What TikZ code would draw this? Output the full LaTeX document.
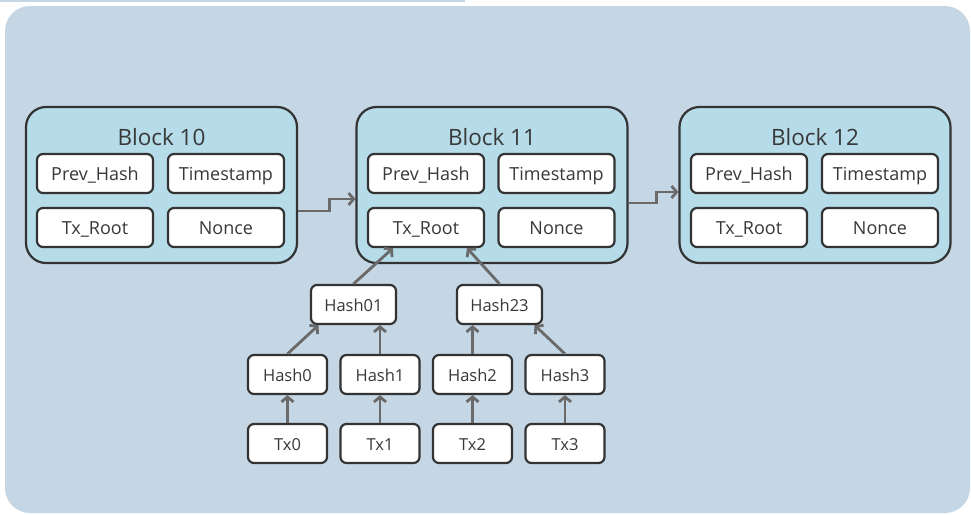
\documentclass[tikz,border=0pt]{standalone}
\usepackage{fontspec}
\setmainfont{Open Sans}
\usepackage{tikz}
\usetikzlibrary{arrows.meta}

\definecolor{PanelBlue}{HTML}{C5D6E5}
\definecolor{BlockCyan}{HTML}{B5DCE8}
\definecolor{EdgeGray}{HTML}{333333}
\definecolor{LinkGray}{HTML}{6A6A6A}
\definecolor{InkGray}{HTML}{383838}

\begin{document}
\begin{tikzpicture}[x=1pt, y=-1pt,
  block/.style={rectangle, rounded corners=20pt, draw=EdgeGray, line width=2.2pt, fill=BlockCyan, minimum width=271pt, minimum height=156pt, inner sep=0pt},
  title/.style={text=InkGray, font=\fontsize{22.5}{25}\selectfont},
  field/.style={rectangle, rounded corners=6pt, draw=EdgeGray, line width=2.2pt, fill=white, minimum width=116pt, minimum height=39pt, inner sep=0pt, text height=14pt, text depth=0pt, text=InkGray, font=\fontsize{18}{21}\selectfont},
  hashbox/.style={field, minimum width=79pt, text height=13pt, font=\fontsize{16.5}{19}\selectfont},
  link/.style={draw=LinkGray, line width=2.8pt, -{Straight Barb[length=5pt, width=12pt]}}]
  \useasboundingbox (0,0) rectangle (971,514);
  \fill[white] (0,0) rectangle (971,514);
  \fill[PanelBlue] (0,0) rectangle (465,1.5);
  \fill[PanelBlue, rounded corners=25pt] (5,6) rectangle (970,513);

  % blocks
  \node [block] (b10) at (161.5, 185) {};
  \node [block] (b11) at (492, 185) {};
  \node [block] (b12) at (815, 185) {};
  \node [title] (b10title) at (161.5, 137) {Block 10};
  \node [title] (b11title) at (492, 137) {Block 11};
  \node [title] (b12title) at (815, 137) {Block 12};

  \node [field] (b10prev) at (95, 173.5) {Prev\_Hash};
  \node [field] (b10time) at (226, 173.5) {Timestamp};
  \node [field] (b10root) at (95, 227.5) {Tx\_Root};
  \node [field] (b10nonce) at (226, 227.5) {Nonce};

  \node [field] (b11prev) at (426, 173.5) {Prev\_Hash};
  \node [field] (b11time) at (556.5, 173.5) {Timestamp};
  \node [field] (b11root) at (426, 227.5) {Tx\_Root};
  \node [field] (b11nonce) at (556.5, 227.5) {Nonce};

  \node [field] (b12prev) at (749, 173.5) {Prev\_Hash};
  \node [field] (b12time) at (880, 173.5) {Timestamp};
  \node [field] (b12root) at (749, 227.5) {Tx\_Root};
  \node [field] (b12nonce) at (880, 227.5) {Nonce};

  % merkle tree
  \node [hashbox, minimum width=85pt] (h01) at (353.5, 304.5) {Hash01};
  \node [hashbox, minimum width=85pt] (h23) at (499.5, 304.5) {Hash23};
  \node [hashbox] (h0) at (287.5, 374.5) {Hash0};
  \node [hashbox] (h1) at (380, 374.5) {Hash1};
  \node [hashbox] (h2) at (472.5, 374.5) {Hash2};
  \node [hashbox] (h3) at (565, 374.5) {Hash3};
  \node [hashbox] (tx0) at (287.5, 443.5) {Tx0};
  \node [hashbox] (tx1) at (380, 443.5) {Tx1};
  \node [hashbox] (tx2) at (472.5, 443.5) {Tx2};
  \node [hashbox] (tx3) at (565, 443.5) {Tx3};

  \draw [link] ([yshift=-26pt]b10.east) -- ++(31,0) |- ([yshift=-14pt]b11.west);
  \draw [link] ([yshift=-18pt]b11.east) -- ++(28,0) |- ([yshift=-7pt]b12.west);

  \draw [link] (tx0) -- (h0);
  \draw [link] (tx1) -- (h1);
  \draw [link] (tx2) -- (h2);
  \draw [link] (tx3) -- (h3);
  \draw [link] (h0.north) -- ([xshift=-35pt]h01.south);
  \draw [link] (h1.north) -- (h1.north |- h01.south);
  \draw [link] (h2.north) -- (h2.north |- h23.south);
  \draw [link] (h3.north) -- ([xshift=35pt]h23.south);
  \draw [link] (h01.north) -- ([xshift=-33pt]b11root.south);
  \draw [link] (h23.north) -- ([xshift=41pt]b11root.south);
\end{tikzpicture}
\end{document}
